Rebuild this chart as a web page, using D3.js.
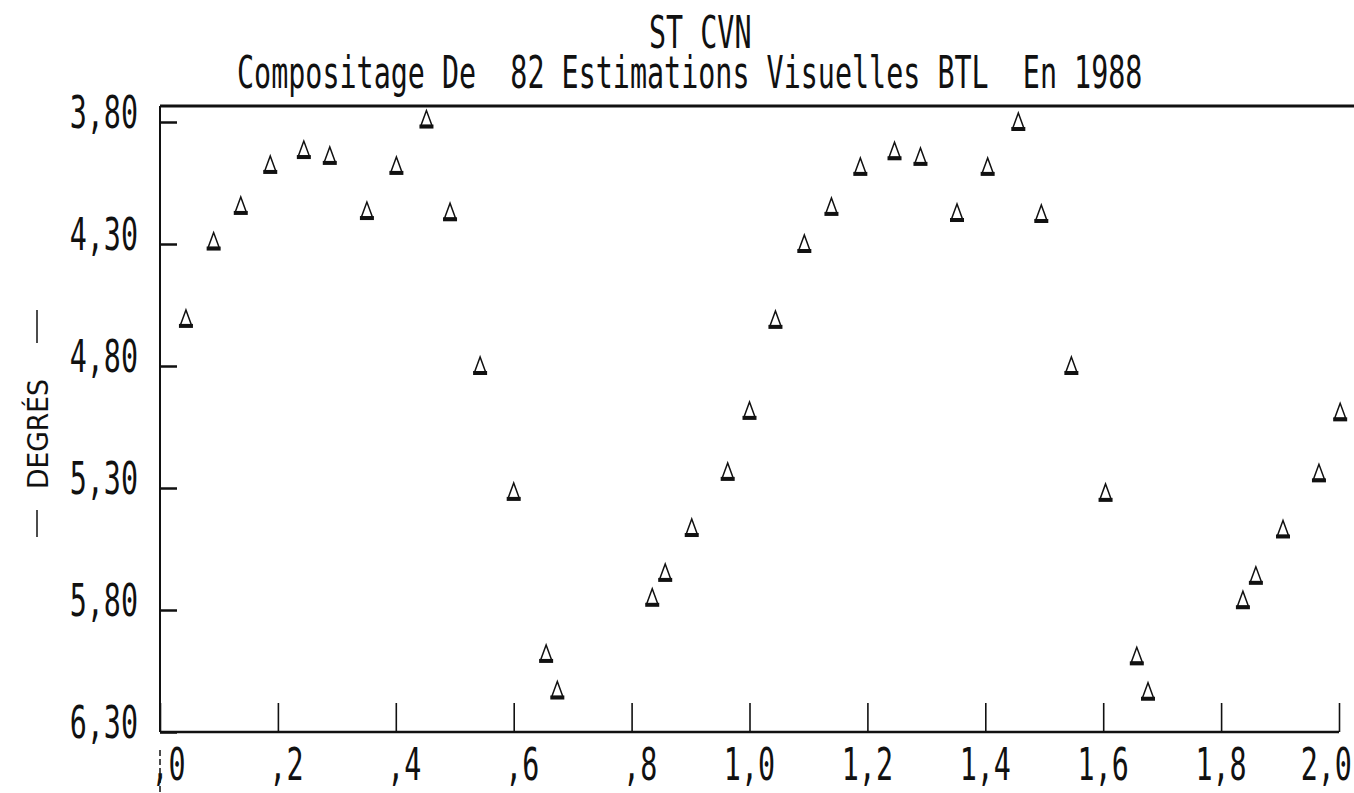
<!DOCTYPE html>
<html>
<head>
<meta charset="utf-8">
<script src="https://cdn.jsdelivr.net/npm/d3@7"></script>
<style>
  body { margin: 0; background: #fff; }
</style>
</head>
<body>
<div id="chart"></div>
<script>
// valeurs : phase et magnitude (deux cycles)
var phases = [0.044, 0.091, 0.137, 0.187, 0.244, 0.288, 0.351, 0.401, 0.452, 0.492,
              0.543, 0.600, 0.655, 0.674, 0.835, 0.857, 0.902, 0.963, 1.000,
              1.044, 1.093, 1.139, 1.188, 1.246, 1.290, 1.352, 1.404, 1.456, 1.495,
              1.546, 1.604, 1.657, 1.676, 1.837, 1.859, 1.905, 1.966, 2.002];
var mags   = [4.607, 4.290, 4.144, 3.976, 3.915, 3.939, 4.165, 3.980, 3.790, 4.170,
              4.800, 5.316, 5.980, 6.130, 5.750, 5.648, 5.464, 5.234, 4.984,
              4.611, 4.300, 4.148, 3.984, 3.920, 3.943, 4.173, 3.984, 3.800, 4.177,
              4.800, 5.320, 5.990, 6.135, 5.760, 5.660, 5.470, 5.240, 4.990];

var xTicks  = [0, 0.2, 0.4, 0.6, 0.8, 1.0, 1.2, 1.4, 1.6, 1.8, 2.0];
var xLabels = [",0", ",2", ",4", ",6", ",8", "1,0", "1,2", "1,4", "1,6", "1,8", "2,0"];
var yTicks  = [3.80, 4.30, 4.80, 5.30, 5.80, 6.30];
var yLabels = ["3,80", "4,30", "4,80", "5,30", "5,80", "6,30"];

var titre1 = "ST CVN";
var titre2 = "Compositage De  82 Estimations Visuelles BTL  En 1988";
var titreY = "DEGRÉS";

// tailles
var chart_width = 1354, chart_height = 793;
var margen = { left: 160, right: 1339, top: 106, bottom: 732 };
var axeY0 = 122;

var FONT = "'DejaVu Sans Mono', monospace", FS = 44, SX = 0.645, ADV = 17.1;

var svg = d3.select("#chart").append("svg")
    .attr("width", chart_width)
    .attr("height", chart_height);

svg.append("rect").attr("width", chart_width).attr("height", chart_height).style("fill", "white");

var x = d3.scaleLinear().domain([0, 2]).range([margen.left, margen.right]);
var y = d3.scaleLinear().domain([3.80, 6.30]).range([axeY0, margen.bottom]);

// texte style imprimante (etroit et haut)
function texte(str, px, py, anchor) {
  return svg.append("text")
    .attr("transform", "translate(" + px + "," + py + ") scale(" + SX + ",1)")
    .attr("text-anchor", anchor || "start")
    .attr("xml:space", "preserve")
    .style("white-space", "pre")
    .style("font-family", FONT)
    .style("font-size", FS + "px")
    .style("fill", "#111")
    .text(str);
}

// cadre
svg.append("line").attr("x1", margen.left).attr("x2", chart_width)
   .attr("y1", margen.top).attr("y2", margen.top)
   .style("stroke", "#111").style("stroke-width", 3);
svg.append("line").attr("x1", margen.left).attr("x2", margen.left)
   .attr("y1", margen.top).attr("y2", margen.bottom)
   .style("stroke", "#111").style("stroke-width", 2);
svg.append("line").attr("x1", margen.left).attr("x2", margen.right)
   .attr("y1", margen.bottom).attr("y2", margen.bottom)
   .style("stroke", "#111").style("stroke-width", 2.5);
svg.append("line").attr("x1", margen.left).attr("x2", margen.left)
   .attr("y1", 750).attr("y2", chart_height)
   .style("stroke", "#111").style("stroke-width", 1.5).style("stroke-dasharray", "6,3");

// axes (graduations vers l'interieur)
var ejeY = d3.axisLeft(y).tickValues(yTicks).tickSizeInner(-17).tickSizeOuter(0).tickFormat("");
svg.append("g").attr("transform", "translate(" + margen.left + ",0)").call(ejeY)
   .call(g => g.select(".domain").remove())
   .call(g => g.selectAll(".tick line").style("stroke", "#111").style("stroke-width", 2.5));

var ejeX = d3.axisBottom(x).tickValues(xTicks).tickSizeInner(-29).tickSizeOuter(0).tickFormat("");
svg.append("g").attr("transform", "translate(0," + margen.bottom + ")").call(ejeX)
   .call(g => g.select(".domain").remove())
   .call(g => g.selectAll(".tick line").style("stroke", "#111").style("stroke-width", 1.6));

// etiquettes
yTicks.forEach(function (v, i) {
  texte(yLabels[i], 138, y(v) + 6, "end");
});
xTicks.forEach(function (v, i) {
  var k = xLabels[i].indexOf(",");
  var x0 = x(v) - (k + 0.5) * ADV;
  // la derniere etiquette reste dans la page
  x0 = Math.min(x0, chart_width - 2 - xLabels[i].length * ADV);
  texte(xLabels[i], x0, 780, "start");
});

// titres
texte(titre1, 649, 48, "start");
texte(titre2, 237, 88, "start");

// etiquette verticale manuscrite
svg.append("text")
   .attr("transform", "translate(48,434) rotate(-90)")
   .attr("text-anchor", "middle")
   .attr("textLength", 110)
   .attr("lengthAdjust", "spacingAndGlyphs")
   .style("font-family", "'DejaVu Sans', sans-serif")
   .style("font-size", "28px")
   .style("fill", "#111")
   .text(titreY);
svg.append("line").attr("x1", 37).attr("x2", 37).attr("y1", 310).attr("y2", 343)
   .style("stroke", "#111").style("stroke-width", 1.5);
svg.append("line").attr("x1", 37).attr("x2", 37).attr("y1", 510).attr("y2", 537)
   .style("stroke", "#111").style("stroke-width", 1.5);

// points (triangles)
var puntos = phases.map(function (p, i) { return { p: p, m: mags[i] }; });

var marcas = svg.append("g").selectAll("g")
  .data(puntos)
  .enter()
  .append("g")
  .attr("transform", d => "translate(" + x(d.p) + "," + y(d.m) + ")");

marcas.append("path")
  .attr("d", "M0,-9 L-5.5,6 L5.5,6 Z")
  .style("fill", "none")
  .style("stroke", "#111")
  .style("stroke-width", 1.5);
marcas.append("rect")
  .attr("x", -7).attr("y", 5).attr("width", 14).attr("height", 4)
  .style("fill", "#111");
</script>
</body>
</html>
